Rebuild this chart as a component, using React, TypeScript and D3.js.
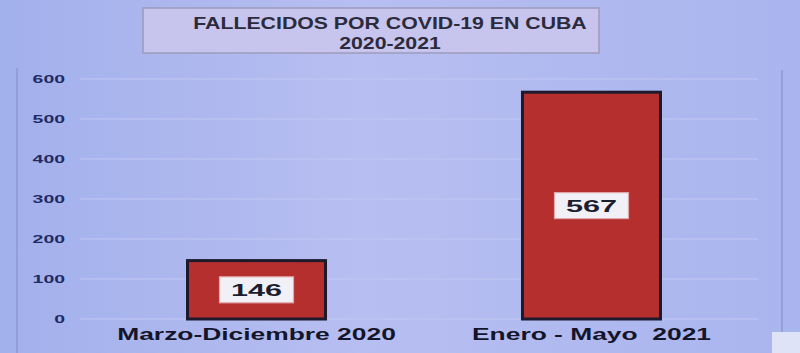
import { useRef, useEffect } from 'react'
import * as d3 from 'd3'

const categories = ['Marzo-Diciembre 2020', 'Enero - Mayo  2021']
const deaths = [146, 567]
const yTicks = [0, 100, 200, 300, 400, 500, 600]
const titleLines = ['FALLECIDOS POR COVID-19 EN CUBA', '2020-2021']

const W = 800
const H = 353
const FONT = '"Liberation Sans", Arial, sans-serif'

export default function App() {
  const svgRef = useRef<SVGSVGElement | null>(null)

  useEffect(() => {
    const el = svgRef.current
    if (!el) return
    d3.select(el).selectAll('*').remove()
    const svg = d3.select(el).attr('width', W).attr('height', H)

    const defs = svg.append('defs')
    const bg = defs.append('linearGradient').attr('id', 'bg').attr('x1', 0).attr('x2', 1).attr('y1', 0).attr('y2', 0)
    bg.append('stop').attr('offset', '0%').attr('stop-color', '#a2b0eb')
    bg.append('stop').attr('offset', '45%').attr('stop-color', '#b7bef1')
    bg.append('stop').attr('offset', '100%').attr('stop-color', '#a9b5ee')

    svg.append('rect').attr('width', W).attr('height', H).attr('fill', 'url(#bg)')

    // title box (text is drawn stretched, the source font is an extended one)
    svg.append('rect')
      .attr('x', 143).attr('y', 8).attr('width', 456).attr('height', 45)
      .attr('fill', '#c7c4ee').attr('stroke', '#9c9cbc').attr('stroke-width', 1.5)
    svg.selectAll('.title')
      .data(titleLines)
      .join('text')
      .attr('class', 'title')
      .attr('transform', (d, i) => `translate(390,${29 + i * 20}) scale(1.33,1)`)
      .attr('text-anchor', 'middle')
      .attr('font-family', FONT)
      .attr('font-weight', 700)
      .attr('font-size', 16)
      .attr('fill', '#2b2b3c')
      .text(d => d)

    // chart frame
    svg.append('line').attr('x1', 17).attr('x2', 17).attr('y1', 68).attr('y2', H).attr('stroke', '#8a93c8').attr('stroke-width', 1.2)
    svg.append('line').attr('x1', 782).attr('x2', 782).attr('y1', 70).attr('y2', 333).attr('stroke', '#8a93c8').attr('stroke-width', 1.2)
    svg.append('rect').attr('x', 772).attr('y', 332).attr('width', 28).attr('height', 21).attr('fill', '#dfe3f8')

    const y = d3.scaleLinear().domain([0, 600]).range([319, 79])
    const x = d3.scaleBand().domain(categories).range([84, 764]).paddingInner(0.588).paddingOuter(0.309)
    const cx = (c: string) => x(c)! + x.bandwidth() / 2

    svg.selectAll('.grid')
      .data(yTicks)
      .join('line')
      .attr('class', 'grid')
      .attr('x1', 80).attr('x2', 758)
      .attr('y1', d => y(d)).attr('y2', d => y(d))
      .attr('stroke', '#c2c8f4').attr('stroke-width', 1)

    svg.selectAll('.ytick')
      .data(yTicks)
      .join('text')
      .attr('class', 'ytick')
      .attr('transform', d => `translate(65,${y(d) + 4}) scale(1.85,1)`)
      .attr('text-anchor', 'end')
      .attr('font-family', FONT)
      .attr('font-weight', 700)
      .attr('font-size', 10.5)
      .attr('fill', '#1f2a66')
      .text(d => d)

    svg.selectAll('.bar')
      .data(deaths)
      .join('rect')
      .attr('class', 'bar')
      .attr('x', (d, i) => x(categories[i])!)
      .attr('y', d => y(d))
      .attr('width', x.bandwidth())
      .attr('height', d => y(0) - y(d))
      .attr('fill', '#b42f2e')
      .attr('stroke', '#1c1a2c')
      .attr('stroke-width', 3)

    const mid = (d: number) => (y(d) + y(0)) / 2
    svg.selectAll('.valbox')
      .data(deaths)
      .join('rect')
      .attr('class', 'valbox')
      .attr('x', (d, i) => cx(categories[i]) - 37)
      .attr('y', d => mid(d) - 13)
      .attr('width', 74)
      .attr('height', 26)
      .attr('fill', '#f1f0f6')
      .attr('stroke', '#e0a6aa')
      .attr('stroke-width', 1.2)

    svg.selectAll('.val')
      .data(deaths)
      .join('text')
      .attr('class', 'val')
      .attr('transform', (d, i) => `translate(${cx(categories[i])},${mid(d) + 6.5}) scale(1.8,1)`)
      .attr('text-anchor', 'middle')
      .attr('font-family', FONT)
      .attr('font-weight', 700)
      .attr('font-size', 17)
      .attr('fill', '#1d1d30')
      .text(d => d)

    svg.selectAll('.xlab')
      .data(categories)
      .join('text')
      .attr('class', 'xlab')
      .attr('transform', d => `translate(${cx(d)},340) scale(1.65,1)`)
      .attr('text-anchor', 'middle')
      .attr('font-family', FONT)
      .attr('font-weight', 700)
      .attr('font-size', 16)
      .attr('fill', '#15152a')
      .style('white-space', 'pre')
      .text(d => d)
  }, [])

  return (
    <div style={{ position: 'fixed', left: 0, top: 0 }}>
      <svg ref={svgRef} style={{ display: 'block' }} />
    </div>
  )
}
